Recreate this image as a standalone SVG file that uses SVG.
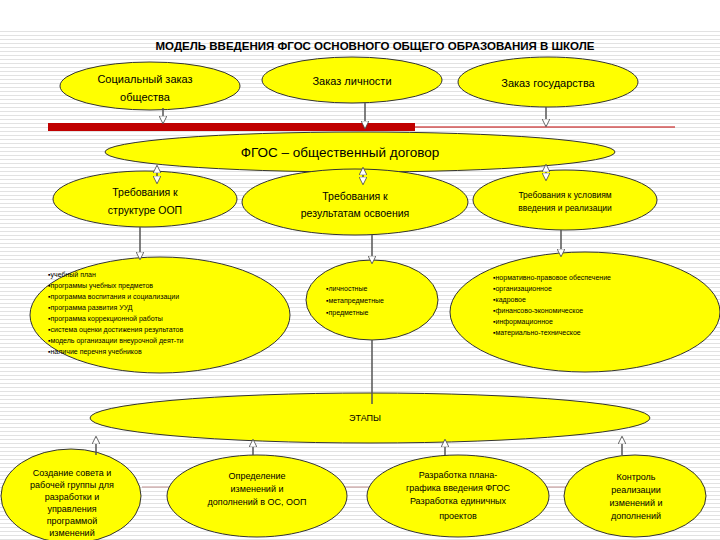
<svg xmlns="http://www.w3.org/2000/svg" width="720" height="540" viewBox="0 0 720 540">
<defs>
<pattern id="bg" width="8" height="4" patternUnits="userSpaceOnUse"><rect width="8" height="4" fill="#fff"/><rect y="3" width="8" height="1" fill="#e2e2e2"/></pattern>
<marker id="ah" viewBox="0 0 10 10" refX="9" refY="5" markerWidth="8" markerHeight="8" orient="auto-start-reverse" markerUnits="userSpaceOnUse"><path d="M0,0 L10,5 L0,10 z" fill="#fff" stroke="#444" stroke-width="1"/></marker>
</defs>
<style>
.e{fill:#ffff00;stroke:#333;stroke-width:1}
.t{font-family:"Liberation Sans",Arial,sans-serif;fill:#000;text-anchor:middle}
.s{font-family:"Liberation Sans",Arial,sans-serif;fill:#000;font-size:7px}
.c{stroke:#555;stroke-width:1.5;fill:none}
</style>
<rect width="720" height="540" fill="url(#bg)"/>
<rect x="0" y="0" width="720" height="30" fill="#fff"/>
<text class="t" x="375" y="50" font-size="11.5" font-weight="bold">МОДЕЛЬ ВВЕДЕНИЯ ФГОС ОСНОВНОГО ОБЩЕГО ОБРАЗОВАНИЯ В ШКОЛЕ</text>
<g id="bars">
<line x1="48" y1="127" x2="675" y2="127" stroke="#c00000" stroke-width="1"/>
<rect x="48" y="123" width="367" height="8" fill="#c00000"/>
<line x1="142" y1="487" x2="590" y2="487" stroke="#c09090" stroke-width="1"/>
</g>
<g id="n-social"><ellipse class="e" cx="150" cy="86" rx="90" ry="24"/><text class="t" font-size="11"><tspan x="145" y="83">Социальный заказ</tspan><tspan x="145" y="101">общества</tspan></text></g>
<g id="n-person"><ellipse class="e" cx="352" cy="80" rx="90" ry="23"/><text class="t" x="352" y="85" font-size="11">Заказ личности</text></g>
<g id="n-state"><ellipse class="e" cx="548" cy="82" rx="90" ry="25"/><text class="t" x="548" y="87" font-size="11">Заказ государства</text></g>
<g id="n-fgos"><ellipse class="e" cx="360" cy="152" rx="255" ry="20"/><text class="t" x="340" y="157" font-size="13.5">ФГОС – общественный договор</text></g>
<g id="n-req1"><ellipse class="e" cx="145" cy="199" rx="92" ry="28"/><text class="t" font-size="10.5"><tspan x="145" y="196">Требования к</tspan><tspan x="145" y="214">структуре ООП</tspan></text></g>
<g id="n-req2"><ellipse class="e" cx="355" cy="202" rx="113" ry="33"/><text class="t" font-size="10.5"><tspan x="355" y="200">Требования к</tspan><tspan x="355" y="217">результатам освоения</tspan></text></g>
<g id="n-req3"><ellipse class="e" cx="565" cy="200" rx="92" ry="30"/><text class="t" font-size="8.5"><tspan x="565" y="198">Требования к условиям</tspan><tspan x="565" y="211">введения  и реализации</tspan></text></g>
<g id="n-list1"><ellipse class="e" cx="160" cy="315" rx="130" ry="58"/><text class="s"><tspan x="48" y="277">▪учебный план</tspan><tspan x="48" y="288">▪программы учебных предметов</tspan><tspan x="48" y="299">▪программа воспитания и социализации</tspan><tspan x="48" y="310">▪программа развития УУД</tspan><tspan x="48" y="321">▪программа коррекционной работы</tspan><tspan x="48" y="332">▪система оценки достижения результатов</tspan><tspan x="48" y="343">▪модель организации внеурочной деят-ти</tspan><tspan x="48" y="354">▪наличие перечня учебников</tspan></text></g>
<g id="n-list2"><ellipse class="e" cx="372" cy="300" rx="66" ry="40"/><text class="s" font-size="8.5"><tspan x="326" y="291">▪личностные</tspan><tspan x="326" y="303">▪метапредметные</tspan><tspan x="326" y="315">▪предметные</tspan></text></g>
<g id="n-list3"><ellipse class="e" cx="585" cy="312" rx="135" ry="60"/><text class="s"><tspan x="493" y="280">▪нормативно-правовое обеспечение</tspan><tspan x="493" y="291">▪организационное</tspan><tspan x="493" y="302">▪кадровое</tspan><tspan x="493" y="313">▪финансово-экономическое</tspan><tspan x="493" y="324">▪информационное</tspan><tspan x="493" y="335">▪материально-техническое</tspan></text></g>
<g id="n-stages"><ellipse class="e" cx="370" cy="418" rx="280" ry="25"/><text class="t" x="365" y="421" font-size="9">ЭТАПЫ</text></g>
<g id="n-s1"><ellipse class="e" cx="71" cy="496" rx="70" ry="47"/><text class="t" font-size="9"><tspan x="72" y="476">Создание совета и</tspan><tspan x="72" y="488">рабочей группы для</tspan><tspan x="72" y="500">разработки и</tspan><tspan x="72" y="512">управления</tspan><tspan x="72" y="524">программой</tspan><tspan x="72" y="536">изменений</tspan></text></g>
<g id="n-s2"><ellipse class="e" cx="257" cy="496" rx="90" ry="41"/><text class="t" font-size="9"><tspan x="257" y="479">Определение</tspan><tspan x="257" y="492">изменений и</tspan><tspan x="257" y="505">дополнений в ОС, ООП</tspan></text></g>
<g id="n-s3"><ellipse class="e" cx="458" cy="496" rx="91" ry="41"/><text class="t" font-size="9"><tspan x="458" y="478">Разработка плана-</tspan><tspan x="458" y="491">графика введения ФГОС</tspan><tspan x="458" y="504">Разработка единичных</tspan><tspan x="458" y="519">проектов</tspan></text></g>
<g id="n-s4"><ellipse class="e" cx="635" cy="496" rx="71" ry="41"/><text class="t" font-size="9"><tspan x="636" y="480">Контроль</tspan><tspan x="636" y="493">реализации</tspan><tspan x="636" y="506">изменений и</tspan><tspan x="636" y="519">дополнений</tspan></text></g>
<g id="connectors">
<line class="c" x1="163" y1="108" x2="163" y2="123" marker-end="url(#ah)"/>
<line class="c" x1="365" y1="103" x2="365" y2="128" marker-end="url(#ah)"/>
<line class="c" x1="546" y1="107" x2="546" y2="126" marker-end="url(#ah)"/>
<line class="c" x1="157" y1="166" x2="157" y2="183" marker-start="url(#ah)" marker-end="url(#ah)"/>
<line class="c" x1="363" y1="168" x2="363" y2="184" marker-start="url(#ah)" marker-end="url(#ah)"/>
<line class="c" x1="546" y1="165" x2="546" y2="180" marker-start="url(#ah)" marker-end="url(#ah)"/>
<line class="c" x1="140" y1="227" x2="140" y2="259" marker-end="url(#ah)"/>
<line class="c" x1="372" y1="235" x2="372" y2="263" marker-end="url(#ah)"/>
<line class="c" x1="561" y1="230" x2="561" y2="256" marker-end="url(#ah)"/>
<line class="c" x1="372" y1="340" x2="372" y2="404"/>
<line class="c" x1="96" y1="455" x2="96" y2="437" marker-end="url(#ah)"/>
<line class="c" x1="253" y1="455" x2="253" y2="440" marker-end="url(#ah)"/>
<line class="c" x1="445" y1="455" x2="445" y2="440" marker-end="url(#ah)"/>
<line class="c" x1="622" y1="455" x2="622" y2="437" marker-end="url(#ah)"/>
</g>
</svg>
